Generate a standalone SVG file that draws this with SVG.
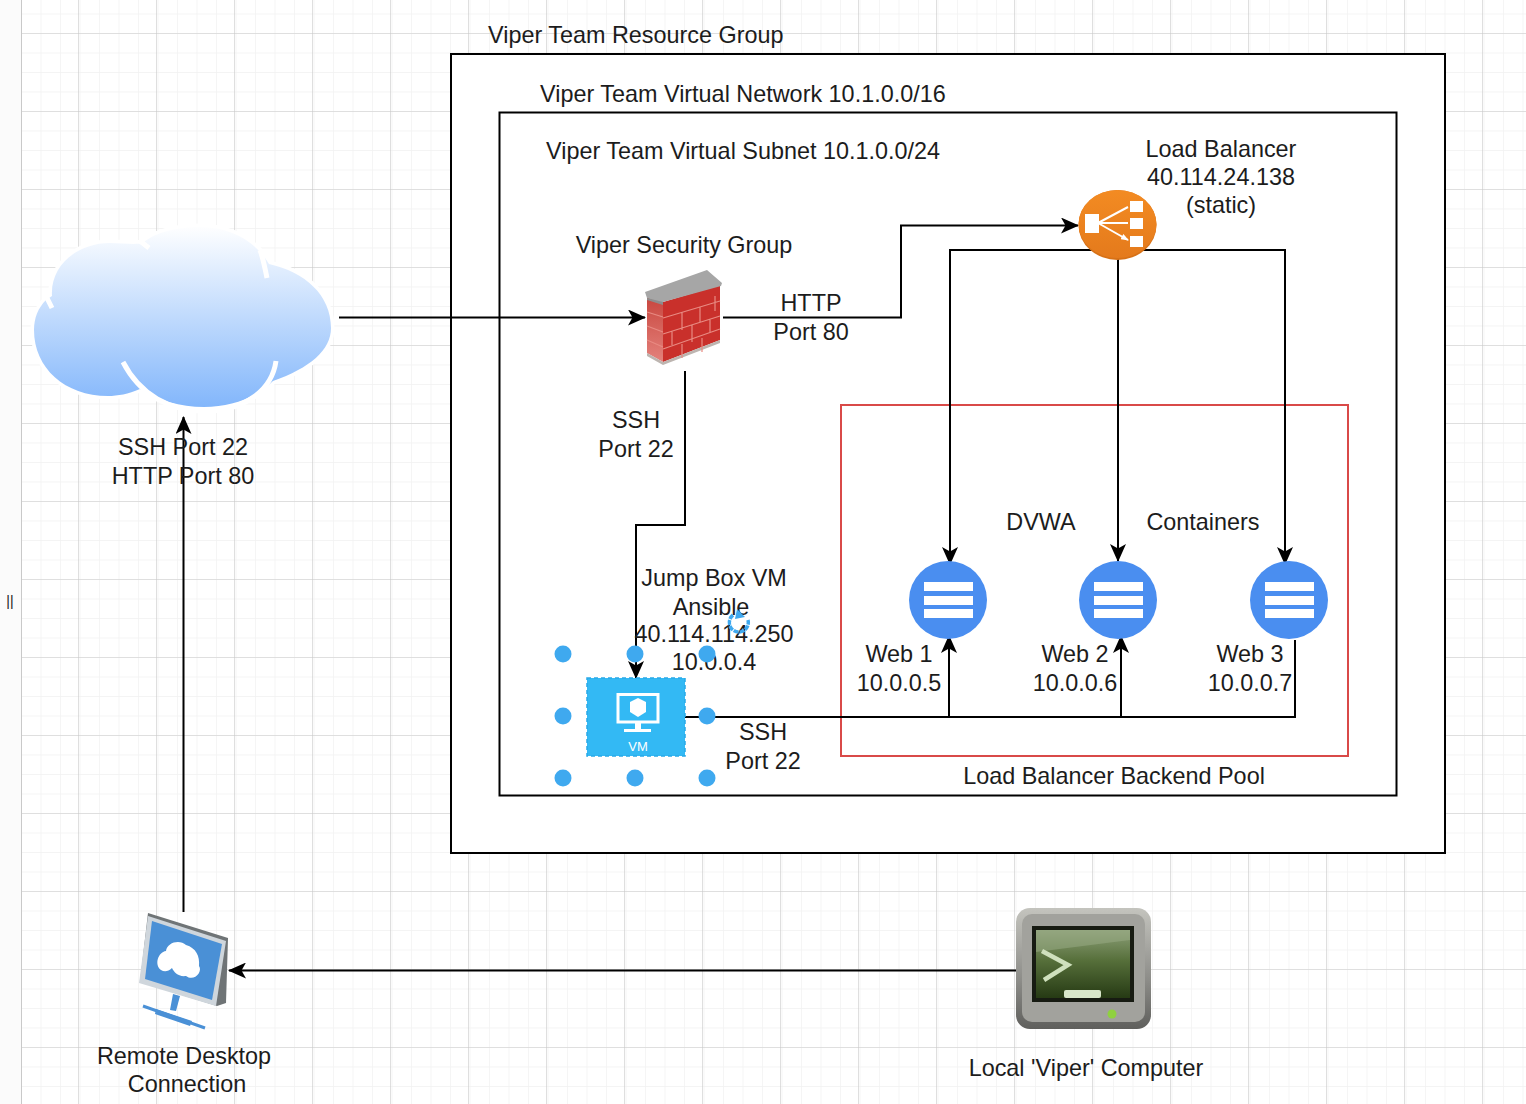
<svg xmlns="http://www.w3.org/2000/svg" width="1526" height="1104" viewBox="0 0 1526 1104">
<style>
text{font-family:"Liberation Sans",Arial,sans-serif;font-size:23.4px;fill:#1c1c1c;text-anchor:middle}
.s{text-anchor:start}
.box{fill:#fff;stroke:#000;stroke-width:2}
.c{fill:none;stroke:#000;stroke-width:2}
.h{fill:#3fa9ef}
.srv{fill:#fff}
</style>
<defs>
<pattern id="minor" x="21" y="33" width="19.5" height="19.5" patternUnits="userSpaceOnUse"><path d="M0 0V19.5M0 0H19.5" fill="none" stroke="#f1f1f1" stroke-width="1.4"/></pattern>
<pattern id="major" x="0" y="33" width="78" height="78" patternUnits="userSpaceOnUse"><path d="M0 0V78M0 0H78" fill="none" stroke="#c9c9c9" stroke-width="1.2"/></pattern>
<linearGradient id="cloud" gradientUnits="userSpaceOnUse" x1="0" y1="225" x2="0" y2="408"><stop offset="0" stop-color="#ffffff"/><stop offset="1" stop-color="#82b6fb"/></linearGradient>
<linearGradient id="lb" x1="0" y1="0" x2="0" y2="1"><stop offset="0" stop-color="#f38b22"/><stop offset="1" stop-color="#e47a1c"/></linearGradient>
<linearGradient id="side" x1="0" y1="0" x2="0" y2="1"><stop offset="0" stop-color="#c8463e"/><stop offset="1" stop-color="#e4827c"/></linearGradient>
<linearGradient id="bezel" x1="0" y1="0" x2="0" y2="1"><stop offset="0" stop-color="#c4c4be"/><stop offset=".6" stop-color="#8c8c88"/><stop offset="1" stop-color="#5f5f5c"/></linearGradient>
<linearGradient id="screen" x1="0" y1="0" x2="0" y2="1"><stop offset="0" stop-color="#8c9f78"/><stop offset=".45" stop-color="#566f3a"/><stop offset="1" stop-color="#263a14"/></linearGradient>
<marker id="a" viewBox="0 0 18 16" markerWidth="18" markerHeight="16" refX="17" refY="8" orient="auto" markerUnits="userSpaceOnUse"><path d="M0 0L18 8L0 16L4.500 8Z" fill="#000"/></marker>
<marker id="w" viewBox="0 0 8 6" markerWidth="8" markerHeight="6" refX="7" refY="3" orient="auto" markerUnits="userSpaceOnUse"><path d="M0 0L8 3L0 6Z" fill="#fff"/></marker>
</defs>
<rect width="1526" height="1104" fill="#fbfbfb"/>
<rect x="21" width="1505" height="1104" fill="#fff"/>
<rect x="21" width="1505" height="1104" fill="url(#minor)"/>
<rect x="21" width="1505" height="1104" fill="url(#major)"/>
<rect x="21" y="0" width="1" height="1104" fill="#c9c9c9"/>
<text x="10" y="606" style="font-size:14px" fill="#666">||</text>

<g id="resource-group"><rect class="box" x="451" y="54" width="994" height="799"/><text class="s" x="488" y="43">Viper Team Resource Group</text></g>
<g id="virtual-network"><rect class="box" x="499.500" y="112.500" width="897" height="683"/><text class="s" x="540" y="102">Viper Team Virtual Network 10.1.0.0/16</text></g>
<text class="s" x="546" y="159">Viper Team Virtual Subnet 10.1.0.0/24</text>
<g id="backend-pool"><rect x="841" y="405" width="507" height="351" fill="none" stroke="#d94a48" stroke-width="2"/><text x="1114" y="784">Load Balancer Backend Pool</text></g>

<g id="connectors">
<path class="c" marker-end="url(#a)" d="M339 317.500H645"/>
<path class="c" marker-end="url(#a)" d="M723 317.500H901V225.500H1078"/>
<path class="c" marker-end="url(#a)" d="M1100 250H950V564"/>
<path class="c" marker-end="url(#a)" d="M1118 250V561"/>
<path class="c" marker-end="url(#a)" d="M1135 250H1285V564"/>
<path class="c" marker-end="url(#a)" d="M685 371V525H636V678"/>
<path class="c" d="M685 717H1295V640"/>
<path class="c" marker-end="url(#a)" d="M949 717V636"/>
<path class="c" marker-end="url(#a)" d="M1121 717V636"/>
<path class="c" marker-end="url(#a)" d="M1016 970.500H229"/>
<path class="c" marker-end="url(#a)" d="M183.500 912V417"/>
</g>

<g id="internet">
<path d="M34 330C34 318 38 308 46 300L52 296C50 265 78 243 110 243C123 243 135 245 143 243C155 232 178 227 200 227C235 227 258 245 269 264C305 272 331 295 331 328C331 350 310 368 273 381C255 398 232 407 204 407C180 407 158 400 140 389C128 394 118 396 108 396C65 396 34 368 34 330Z" fill="url(#cloud)" stroke="#fff" stroke-width="7" paint-order="stroke"/>
<path d="M123 362C140 395 170 411 204 411C245 411 272 390 276 361M260 250C263 258 265 268 267 278M140 241L149 248M47 298L52 308" fill="none" stroke="#fff" stroke-width="5"/>
<text x="183" y="455">SSH Port 22</text><text x="183" y="484">HTTP Port 80</text>
</g>

<g id="security-group">
<path d="M647 297L663 302V362L647 353Z" fill="url(#side)"/>
<path d="M663 302L720 285V340L663 362Z" fill="#c9302b"/>
<path d="M647 353L663 362L720 340V343L663 365L647 356Z" fill="#bdb5b0"/>
<path d="M647 312L663 317M647 326L663 332M647 340L663 347M663 318L720 301M663 334L720 316M663 349L720 329M682 312V330M700 307V322M715 296V311M672 331V345M692 325V342M710 319V333M682 344V358M702 338V352" fill="none" stroke="#e88a82" stroke-width="1.200"/>
<path d="M645 292L707 270L722 283L721 286L663 302L663 304L647 298Z" fill="#a6a6a6"/>
<path d="M647 298L663 302L663 305L647 300Z" fill="#8d8d8d"/>
<text x="684" y="253">Viper Security Group</text>
</g>
<text x="811" y="311">HTTP</text><text x="811" y="340">Port 80</text>
<text x="636" y="428">SSH</text><text x="636" y="457">Port 22</text>

<g id="load-balancer">
<ellipse cx="1117.500" cy="225" rx="39" ry="35" fill="#d77116"/>
<ellipse cx="1117.500" cy="224" rx="39" ry="34" fill="url(#lb)"/>
<rect x="1085" y="214" width="14" height="19" fill="#fff"/>
<rect x="1130" y="201" width="13" height="11" fill="#fff"/><rect x="1130" y="218" width="13" height="11" fill="#fff"/><rect x="1130" y="236" width="13" height="11" fill="#fff"/>
<path d="M1098 223L1128 207M1098 223H1128M1098 223L1128 240" stroke="#fff" stroke-width="2" fill="none" marker-end="url(#w)"/>
<text x="1221" y="157">Load Balancer</text><text x="1221" y="185">40.114.24.138</text><text x="1221" y="213">(static)</text>
</g>

<g id="web1"><circle cx="948" cy="600" r="39" fill="#4a8ef0"/><rect class="srv" x="924" y="582" width="49" height="9"/><rect class="srv" x="924" y="596" width="49" height="9"/><rect class="srv" x="924" y="609" width="49" height="9"/><text x="899" y="662">Web 1</text><text x="899" y="691">10.0.0.5</text></g>
<g id="web2"><circle cx="1118" cy="600" r="39" fill="#4a8ef0"/><rect class="srv" x="1094" y="582" width="49" height="9"/><rect class="srv" x="1094" y="596" width="49" height="9"/><rect class="srv" x="1094" y="609" width="49" height="9"/><text x="1075" y="662">Web 2</text><text x="1075" y="691">10.0.0.6</text></g>
<g id="web3"><circle cx="1289" cy="600" r="39" fill="#4a8ef0"/><rect class="srv" x="1265" y="582" width="49" height="9"/><rect class="srv" x="1265" y="596" width="49" height="9"/><rect class="srv" x="1265" y="609" width="49" height="9"/><text x="1250" y="662">Web 3</text><text x="1250" y="691">10.0.0.7</text></g>
<text x="1041" y="530">DVWA</text><text x="1203" y="530">Containers</text>

<g id="jump-box">
<text x="714" y="586">Jump Box VM</text><text x="711" y="615">Ansible</text><text x="714" y="642">40.114.114.250</text><text x="714" y="670">10.0.0.4</text>
<rect x="587" y="678" width="98" height="78" fill="#33b9f4" stroke="#29a9e8" stroke-width="1.500" stroke-dasharray="4 3"/>
<path d="M618 694.500H658V722H618Z" fill="none" stroke="#fff" stroke-width="3"/>
<path d="M638 698L646 702V712L638 717L630 712V702Z" fill="#fff"/>
<path d="M635 723H641V729H651V732H624V729H635Z" fill="#fff"/>
<text x="638" y="751" style="font-size:13px;fill:#fff">VM</text>
<circle class="h" cx="563" cy="654" r="8.500"/><circle class="h" cx="635" cy="654" r="8.500"/><circle class="h" cx="707" cy="654" r="8.500"/>
<circle class="h" cx="563" cy="716" r="8.500"/><circle class="h" cx="707" cy="716" r="8.500"/>
<circle class="h" cx="563" cy="778" r="8.500"/><circle class="h" cx="635" cy="778" r="8.500"/><circle class="h" cx="707" cy="778" r="8.500"/>
<path d="M733 615A9.500 9.500 0 1 0 748 620" fill="none" stroke="#3fa9ef" stroke-width="3.500" stroke-dasharray="5 1"/>
<path d="M737 609L745 617L735 619Z" fill="#3fa9ef"/>
</g>
<text x="763" y="740">SSH</text><text x="763" y="769">Port 22</text>

<g id="remote-desktop">
<path d="M148 913L228 938L226 1003L217 1006L140 982Z" fill="#6f7476"/>
<path d="M148 916L226 941L216 1006L139 983Z" fill="#cfd6dc"/>
<path d="M152 921L222 944L212 1000L145 979Z" fill="#4a90d6"/>
<path d="M161 970C154 965 158 952 166 951C167 942 180 939 186 945C196 948 200 956 199 966C203 972 194 982 186 976C178 977 174 972 172 968C168 972 164 972 161 970Z" fill="#fff"/>
<path d="M173 994L180 996L176 1011L170 1010Z" fill="#4a90d6"/>
<path d="M143 1006L205 1028" stroke="#4a90d6" stroke-width="3"/>
<path d="M156 1009L192 1021L190 1026L155 1014Z" fill="#4a90d6"/>
<text x="184" y="1064">Remote Desktop</text><text x="187" y="1092">Connection</text>
</g>

<g id="local-computer">
<rect x="1016" y="908" width="135" height="121" rx="14" fill="url(#bezel)"/>
<rect x="1022" y="914" width="123" height="108" rx="10" fill="#a2a29d"/>
<rect x="1032" y="926" width="102" height="76" fill="#171b12"/>
<rect x="1036" y="930" width="94" height="68" fill="url(#screen)"/>
<path d="M1130 940V930H1036V952Z" fill="#9cae88" opacity=".5"/>
<path d="M1042 951L1068 965L1044 980" fill="none" stroke="#cfe0bd" stroke-width="4.500"/>
<rect x="1064" y="990" width="37" height="8" rx="2" fill="#d8e6c9"/>
<circle cx="1112" cy="1014" r="4.500" fill="#8fd13f"/>
<text x="1086" y="1076">Local 'Viper' Computer</text>
</g>
</svg>
